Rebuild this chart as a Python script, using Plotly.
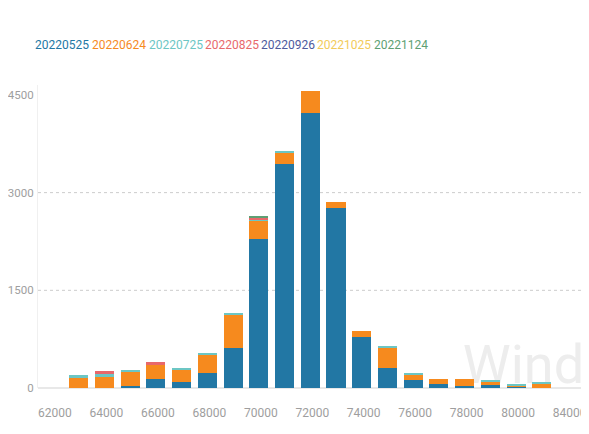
import plotly.graph_objects as go

# ---- data ----
bins = [63000, 64000, 65000, 66000, 67000, 68000, 69000, 70000, 71000, 72000,
        73000, 74000, 75000, 76000, 77000, 78000, 79000, 80000, 81000]
series_names = ["20220525", "20220624", "20220725", "20220825", "20220926", "20221025", "20221124"]
s20220525 = [0, 0, 35, 138, 86, 230, 614, 2290, 3436, 4219, 2770, 787, 307, 117, 55, 30, 40, 10, 5]
s20220624 = [165, 169, 215, 220, 195, 281, 506, 276, 169, 342, 83, 87, 307, 87, 85, 112, 55, 35, 66]
s20220725 = [30, 55, 30, 0, 26, 26, 31, 25, 31, 0, 0, 0, 35, 31, 0, 0, 20, 20, 25]
s20220825 = [0, 30, 0, 35, 0, 0, 0, 26, 0, 0, 0, 0, 0, 0, 0, 0, 0, 0, 0]
s20220926 = [0] * 19
s20221025 = [0] * 19
s20221124 = [0, 0, 0, 0, 0, 0, 0, 15, 0, 0, 0, 0, 0, 0, 0, 0, 0, 0, 0]
series_values = [s20220525, s20220624, s20220725, s20220825, s20220926, s20221025, s20221124]
colors = ["#2277a4", "#f68a1e", "#6cc6c4", "#e8686b", "#4e5a9d", "#f2cb5a", "#5e9f73"]

x_tick_vals = [62000, 64000, 66000, 68000, 70000, 72000, 74000, 76000, 78000, 80000, 82000]
x_tick_text = ["62000", "64000", "66000", "68000", "70000", "72000", "74000", "76000", "78000", "80000", "84000"]
y_tick_vals = [0, 1500, 3000, 4500]
y_tick_text = ["0", "1500", "3000", "4500"]

FONT = "Roboto, Liberation Sans, sans-serif"

# the page body has an 8px margin, so the figure is laid out in page coordinates minus 8
OFF = 8
W, H = 589 - OFF, 434 - OFF
ML, MR, MT, MB = 38 - OFF, 2, 85 - OFF, 46
PW, PH = W - ML - MR, H - MT - MB


def px_to_paper_x(px):
    return (px - OFF - ML) / PW


def py_to_paper_y(py):
    return (H - MB - (py - OFF)) / PH


fig = go.Figure()
for name, vals, col in zip(series_names, series_values, colors):
    fig.add_trace(go.Bar(x=bins, y=vals, name=name, marker_color=col,
                         marker_line_width=0, showlegend=False))

# legend as coloured text
legend_px = [33, 90, 147, 203, 259, 315, 372]
for name, col, px in zip(series_names, colors, legend_px):
    fig.add_annotation(text=name, xref="paper", yref="paper",
                       x=px_to_paper_x(px), y=py_to_paper_y(45),
                       xanchor="left", yanchor="middle", showarrow=False,
                       font=dict(family=FONT, size=12, color=col))

# dotted grid lines
for gv in y_tick_vals[1:-1]:
    fig.add_shape(type="line", xref="paper", yref="y", x0=0, x1=1, y0=gv, y1=gv,
                  line=dict(color="#cccccc", width=1, dash="dot"), layer="below")

# watermark
fig.add_shape(type="rect", xref="paper", yref="paper",
              x0=px_to_paper_x(458), x1=px_to_paper_x(589),
              y0=py_to_paper_y(402), y1=py_to_paper_y(318),
              line=dict(width=0), fillcolor="rgba(0,0,0,0)", layer="below",
              label=dict(text="Wind", font=dict(family=FONT, size=54, color="#ededed"),
                         textposition="middle center"))

fig.update_layout(
    template="none",
    width=W, height=H, barmode="stack", bargap=0.26,
    margin=dict(l=ML, r=MR, t=MT, b=MB, autoexpand=False),
    paper_bgcolor="white", plot_bgcolor="white",
    xaxis=dict(range=[61418, 82755], tickvals=x_tick_vals, ticktext=x_tick_text,
               showgrid=False, zeroline=False, showline=False, ticks="",
               tickangle=0, automargin=False, ticklabeloverflow="allow",
               ticklabelshift=2, ticklabelstandoff=16,
               tickfont=dict(family=FONT, size=12, color="#9e9e9e")),
    yaxis=dict(range=[0, 4653], tickvals=y_tick_vals, ticktext=y_tick_text,
               showgrid=False, zeroline=True, zerolinecolor="#e8e8e8", zerolinewidth=2,
               showline=True, linecolor="#f0f0f0", linewidth=1, ticks="",
               automargin=False, ticklabelstandoff=1, ticklabeloverflow="allow",
               tickfont=dict(family=FONT, size=11.5, color="#9e9e9e")),
)

fig.write_html("out.html")
